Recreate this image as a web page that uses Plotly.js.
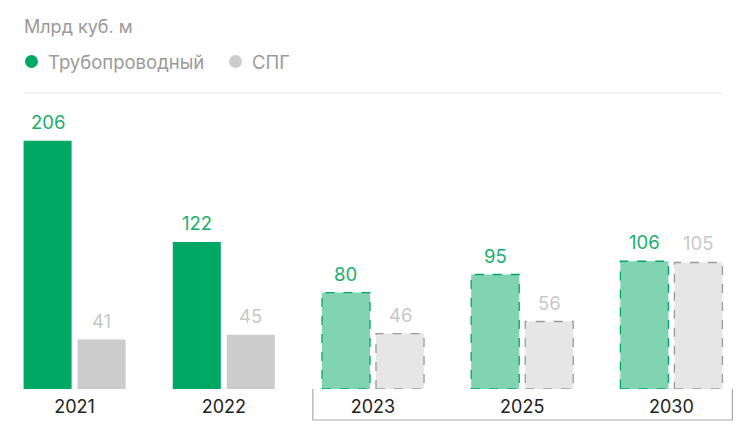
<!DOCTYPE html>
<html>
<head>
<meta charset="utf-8">
<script src="https://cdn.plot.ly/plotly-3.0.1.min.js"></script>
<style>
html,body{margin:0;padding:0;background:#fff;}
#chart{width:746px;height:430px;}
</style>
</head>
<body>
<div id="chart"></div>
<script>
// Data
var years = ['2021', '2022', '2023', '2025', '2030'];
var pipeline = [206, 122, 80, 95, 106];
var lng = [41, 45, 46, 56, 105];
var isForecast = [false, false, true, true, true];
var seriesNames = ['Трубопроводный', 'СПГ'];
var unitLabel = 'Млрд куб. м';

// Styles
var GREEN = '#00a865', GREEN_LIGHT = '#80d4b2', GREEN_TEXT = '#1aae6e';
var GRAY = '#cccccc', GRAY_LIGHT = '#e6e6e6', GRAY_TEXT = '#c8c8c8', GRAY_DASH = '#9a9a9a';
var FONT = 'Inter, Roboto, sans-serif';
var barW = 0.322, offG = -0.342, offS = 0.02;

var idx = years.map(function(_, i){ return i; });

var traces = [
  {type:'bar', name:seriesNames[0], x:idx, y:pipeline, width:barW, offset:offG,
   marker:{color:isForecast.map(function(f){return f?GREEN_LIGHT:GREEN;}), line:{width:0}},
   hoverinfo:'y', showlegend:false},
  {type:'bar', name:seriesNames[1], x:idx, y:lng, width:barW, offset:offS,
   marker:{color:isForecast.map(function(f){return f?GRAY_LIGHT:GRAY;}), line:{width:0}},
   hoverinfo:'y', showlegend:false}
];

var shapes = [];
var annotations = [];
idx.forEach(function(i){
  if (isForecast[i]) {
    shapes.push({type:'rect', xref:'x', yref:'y', x0:i+offG, x1:i+offG+barW, y0:0, y1:pipeline[i],
      line:{color:GREEN, width:1.3, dash:'dash'}, fillcolor:'rgba(0,0,0,0)'});
    shapes.push({type:'rect', xref:'x', yref:'y', x0:i+offS, x1:i+offS+barW, y0:0, y1:lng[i],
      line:{color:GRAY_DASH, width:1.3, dash:'dash'}, fillcolor:'rgba(0,0,0,0)'});
  }
  annotations.push({xref:'x', yref:'y', x:i+offG+barW/2, y:pipeline[i], text:String(pipeline[i]),
    showarrow:false, yanchor:'bottom', yshift:6, font:{family:FONT, size:18.5, color:GREEN_TEXT}});
  annotations.push({xref:'x', yref:'y', x:i+offS+barW/2, y:lng[i], text:String(lng[i]),
    showarrow:false, yanchor:'bottom', yshift:6, font:{family:FONT, size:18.5, color:GRAY_TEXT}});
});

// plot area: top 88px, bottom 389px (height 301)
var PT = 88, PB = 389, PH = PB - PT, W = 746;
function py(pix){ return (PB - pix) / PH; }
function px(pix){ return pix / W; }

// top rule
shapes.push({type:'line', xref:'paper', yref:'paper', x0:px(24), x1:px(722), y0:py(93), y1:py(93),
  line:{color:'#e3e3e3', width:1}});
// forecast bracket
shapes.push({type:'path', xref:'x', yref:'paper',
  path:'M 1.597 0 L 1.597 ' + py(420) + ' L 4.409 ' + py(420) + ' L 4.409 0',
  line:{color:'#a8a8a8', width:1.2}});
// legend markers
shapes.push({type:'circle', xref:'paper', yref:'paper', xsizemode:'pixel', ysizemode:'pixel',
  xanchor:px(31.5), yanchor:py(61.5), x0:-6.5, x1:6.5, y0:-6.5, y1:6.5, fillcolor:GREEN, line:{width:0}});
shapes.push({type:'circle', xref:'paper', yref:'paper', xsizemode:'pixel', ysizemode:'pixel',
  xanchor:px(235.5), yanchor:py(61.5), x0:-6.5, x1:6.5, y0:-6.5, y1:6.5, fillcolor:GRAY, line:{width:0}});
annotations.push({xref:'paper', yref:'paper', x:px(46), y:py(61.5), xanchor:'left', yanchor:'middle',
  text:seriesNames[0], showarrow:false, font:{family:FONT, size:18.5, color:'#9a9a9a'}});
annotations.push({xref:'paper', yref:'paper', x:px(250), y:py(61.5), xanchor:'left', yanchor:'middle',
  text:seriesNames[1], showarrow:false, font:{family:FONT, size:18.5, color:'#9a9a9a'}});

var layout = {
  width:746, height:430,
  margin:{l:0, r:0, t:PT, b:430-PB, pad:0},
  paper_bgcolor:'#fff', plot_bgcolor:'#fff',
  title:{text:unitLabel, x:px(24), xanchor:'left', xref:'paper', y:1-27/430, yref:'container', yanchor:'middle',
    font:{family:FONT, size:18, color:'#9a9a9a'}},
  barmode:'group',
  xaxis:{type:'linear', range:[-0.5, 4.5], tickmode:'array', tickvals:idx, ticktext:years,
    showgrid:false, zeroline:false, showline:false, ticks:'', fixedrange:true, ticklabelstandoff:5,
    tickfont:{family:FONT, size:18, color:'#222'}},
  yaxis:{range:[0, PH/1.205], visible:false, showgrid:false, zeroline:false, fixedrange:true},
  shapes:shapes, annotations:annotations, showlegend:false, font:{family:FONT}
};

Plotly.newPlot('chart', traces, layout, {displayModeBar:false, staticPlot:true});
</script>
</body>
</html>
